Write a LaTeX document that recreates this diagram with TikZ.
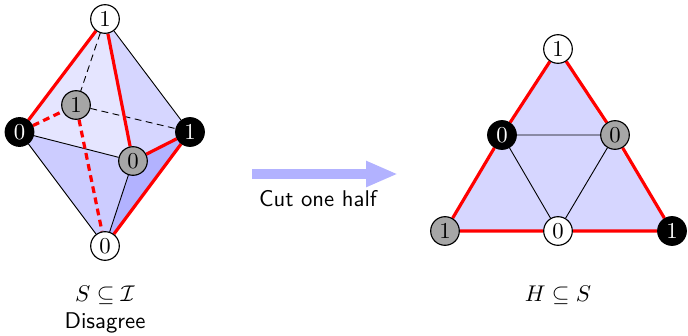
\documentclass[tikz,border=0pt]{standalone}
\usetikzlibrary{arrows.meta,backgrounds}
\tikzset{
  vertex/.style={circle, draw, line width=0.5pt, minimum size=12.6pt, inner sep=0pt},
  vwhite/.style={vertex, fill=white},
  vblack/.style={vertex, fill=black, text=white},
  vgray/.style={vertex, fill=black!35},
  redge/.style={red, line width=1.4pt},
  rdash/.style={redge, dash pattern=on 3pt off 2pt},
  bedge/.style={black, line width=0.4pt},
  bdash/.style={bedge, dash pattern=on 3pt off 2pt},
}
\begin{document}
\begin{tikzpicture}[x=0.44pt, y=0.44pt]
  \useasboundingbox (0,0) rectangle (688,-335);
  \foreach \name/\x/\y/\kind/\lab in {
      top/105/-19/vwhite/1, left/19.5/-132/vblack/0, right/190/-132/vblack/1,
      front/133/-161/vgray/0, back/76/-105/vgray/1, bottom/105/-246/vwhite/0,
      htop/558/-49/vwhite/1, hleft/502/-135/vblack/0, hright/615/-135/vgray/0,
      hbl/445/-231/vgray/1, hbot/558/-231/vwhite/0, hbr/672/-231/vblack/1}{
    \node[\kind] (\name) at (\x,\y) {\lab};
  }
  \begin{scope}[on background layer]
    \fill[blue!10] (left.center) -- (top.center) -- (front.center) -- cycle;
    \fill[blue!16] (top.center) -- (right.center) -- (front.center) -- cycle;
    \fill[blue!20] (left.center) -- (front.center) -- (bottom.center) -- cycle;
    \fill[blue!30] (front.center) -- (right.center) -- (bottom.center) -- cycle;
    \fill[blue!16] (htop.center) -- (hbr.center) -- (hbl.center) -- cycle;

    \draw[bedge] (left) -- (front) (front) -- (bottom) (left) -- (bottom) (top) -- (right);
    \draw[bdash] (top) -- (back) (back) -- (right);
    \draw[redge] (top) -- (left) (top) -- (front) (front) -- (right) (right) -- (bottom);
    \draw[rdash] (left) -- (back) (back) -- (bottom);

    \draw[bedge] (hleft) -- (hright) (hleft) -- (hbot) (hright) -- (hbot);
    \draw[redge] (htop) -- (hleft) (hleft) -- (hbl) (hbl) -- (hbot) (hbot) -- (hbr)
                 (hbr) -- (hright) (hright) -- (htop);
  \end{scope}
  % cut arrow
  \coordinate (cutstart) at (252,-174);
  \coordinate (cutend) at (398,-174);
  \draw[blue!30, line width=4pt, -{Triangle[length=14pt,width=10.5pt]}] (cutstart) -- (cutend);
  \node[font=\sffamily] (cutlabel) at (318,-199) {Cut one half};
  \node (slabel) at (105,-295) {$S \subseteq \mathcal{I}$};
  \node[font=\sffamily] (dlabel) at (105,-323) {Disagree};
  \node (hlabel) at (558,-295) {$H \subseteq S$};
\end{tikzpicture}
\end{document}
